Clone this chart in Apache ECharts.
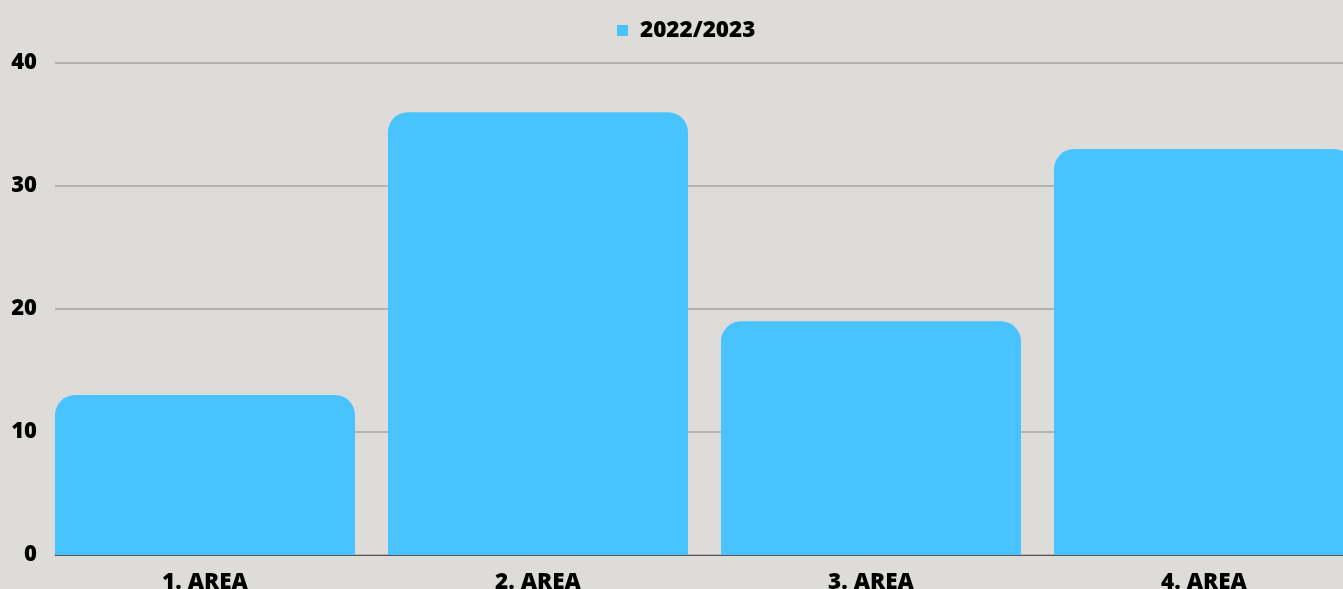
<!DOCTYPE html>
<html>
<head>
<meta charset="utf-8">
<script src="https://cdn.jsdelivr.net/npm/echarts@6/dist/echarts.min.js"></script>
<style>
html,body{margin:0;padding:0;background:#dddcd8;}
#c{width:1343px;height:589px;}
</style>
</head>
<body>
<div id="c"></div>
<script>
const categories = ['1. AREA', '2. AREA', '3. AREA', '4. AREA'];
const seriesName = '2022/2023';
const values = [13, 36, 19, 33];
const yTicks = [0, 10, 20, 30, 40];

const chart = echarts.init(document.getElementById('c'));
const font = '"Open Sans", "Noto Sans", sans-serif';
chart.setOption({
  backgroundColor: '#dddcd8',
  animation: false,
  textStyle: { fontFamily: font },
  legend: {
    top: 14,
    left: 612,
    itemWidth: 11,
    itemHeight: 11,
    icon: 'rect',
    itemGap: 10,
    textStyle: { fontFamily: font, fontWeight: 800, fontSize: 22.5, color: '#000', padding: [0, 0, 0, 7] },
    data: [seriesName]
  },
  grid: [
    { left: 55, right: 0, top: 63, bottom: 34, outerBoundsMode: 'none', containLabel: false },
    { left: 38.5, width: 1332, top: 63, bottom: 34, outerBoundsMode: 'none', containLabel: false }
  ],
  xAxis: [
    { gridIndex: 0, type: 'value', min: 0, max: 1,
      axisLine: { show: true, lineStyle: { color: '#555', width: 1 } },
      axisTick: { show: false }, axisLabel: { show: false }, splitLine: { show: false } },
    { gridIndex: 1, type: 'category', data: categories,
      axisLine: { show: false }, axisTick: { show: false },
      axisLabel: { margin: 16, fontFamily: font, fontWeight: 800, fontSize: 22.5, color: '#000' } }
  ],
  yAxis: [
    { gridIndex: 0, type: 'value', min: yTicks[0], max: yTicks[yTicks.length - 1], interval: 10,
      axisLine: { show: false }, axisTick: { show: false },
      axisLabel: { margin: 18, fontFamily: font, fontWeight: 800, fontSize: 22, color: '#000' },
      splitLine: { show: true, lineStyle: { color: '#a6a6a4', width: 1.5 } } },
    { gridIndex: 1, type: 'value', min: yTicks[0], max: yTicks[yTicks.length - 1], interval: 10,
      show: false, splitLine: { show: false } }
  ],
  series: [{
    name: seriesName,
    type: 'bar',
    xAxisIndex: 1,
    yAxisIndex: 1,
    data: values,
    barWidth: 300,
    itemStyle: { color: '#48c3fe', borderRadius: [20, 20, 0, 0] },
    z: 1
  }]
});
</script>
</body>
</html>
